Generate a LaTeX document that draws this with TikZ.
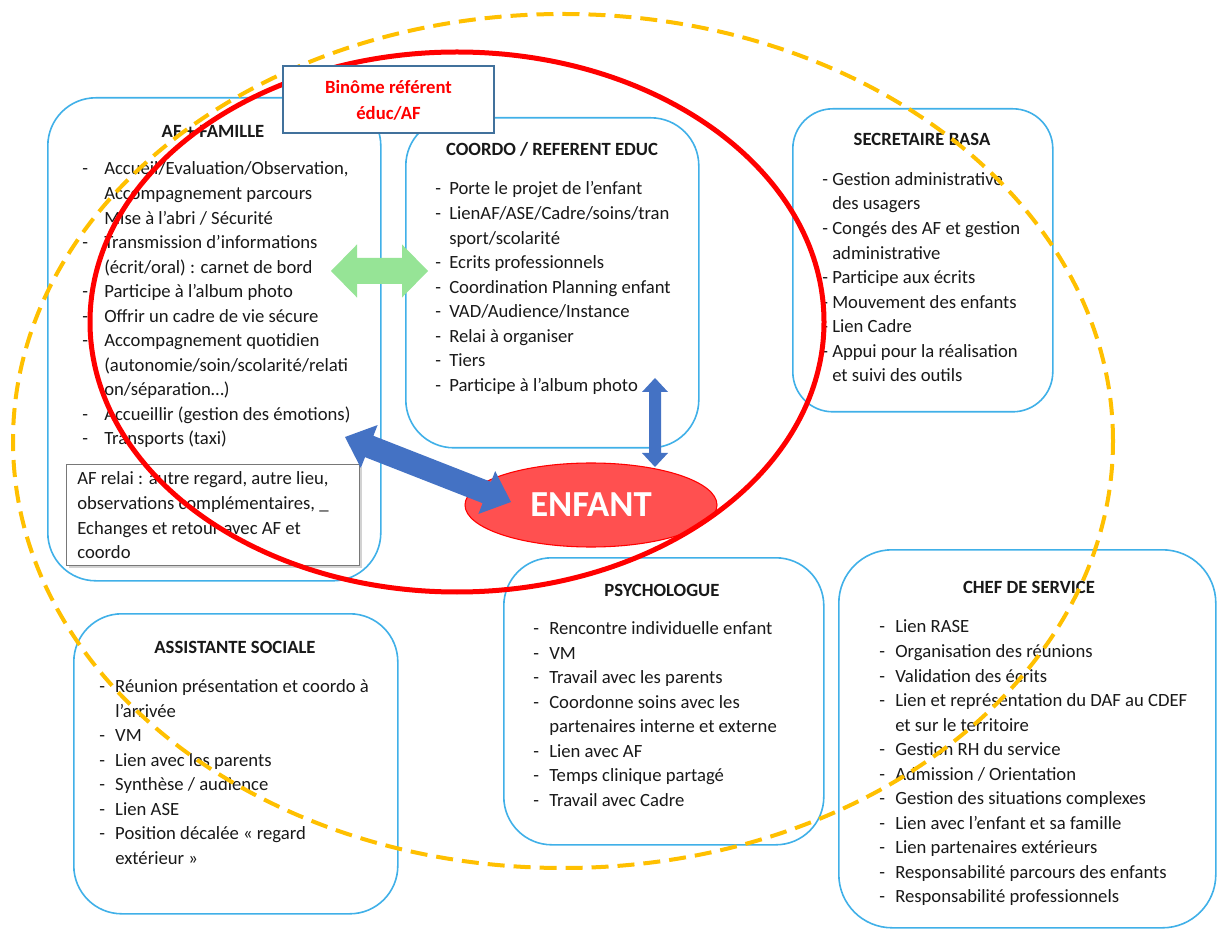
\documentclass[tikz,border=0pt]{standalone}
\usepackage{fontspec}
\setmainfont{Carlito}
\usetikzlibrary{calc,shapes.geometric,shadows}
\definecolor{boxblue}{RGB}{64,176,232}
\definecolor{binblue}{RGB}{65,113,156}
\definecolor{orangeY}{RGB}{255,192,0}
\definecolor{enfred}{RGB}{255,80,80}
\definecolor{arrblue}{RGB}{68,114,196}
\definecolor{arrgreen}{RGB}{150,228,150}
\definecolor{relaigray}{RGB}{120,120,120}
\definecolor{txt}{RGB}{25,25,25}
\newcommand\bodyfont{\fontsize{14}{18.4}\selectfont}
\newcommand\ditem[1]{\strut\makebox[#1][l]{-}}
\newcommand\dcont[1]{\strut\hspace*{#1}}
% #1 tip A, #2 tip B, #3 head length, #4 head half width, #5 shaft half width, #6 colour
\newcommand\blockarrow[6]{%
  \coordinate (ha) at ($(#1)!#3!(#2)$);
  \coordinate (hb) at ($(#2)!#3!(#1)$);
  \fill[#6] (#1) -- ($(ha)!#4!90:(#2)$) -- ($(ha)!#5!90:(#2)$) -- ($(hb)!#5!-90:(#1)$)
    -- ($(hb)!#4!-90:(#1)$) -- (#2) -- ($(hb)!#4!90:(#1)$) -- ($(hb)!#5!90:(#1)$)
    -- ($(ha)!#5!-90:(#2)$) -- ($(ha)!#4!-90:(#2)$) -- cycle;}
\tikzset{
  rbox/.style={draw=boxblue, line width=1.2pt, rounded corners=36pt, fill=white,
    anchor=north west, inner sep=0pt},
  titletext/.style={font=\bodyfont\bfseries, text=txt, anchor=base, inner sep=0pt},
  listtext/.style={font=\bodyfont, text=txt, align=left, anchor=north west, inner sep=0pt},
  relaibox/.style={draw=relaigray, line width=1.1pt, fill=white, anchor=north west,
    inner sep=0pt, drop shadow={shadow xshift=1.5pt, shadow yshift=-1.5pt, opacity=0.35}},
  binbox/.style={draw=binblue, line width=1.5pt, fill=white, anchor=north west, inner sep=0pt},
  bintext/.style={font=\fontsize{14}{19.5}\selectfont\bfseries, text=red, align=center, inner sep=0pt},
  enfantnode/.style={ellipse, draw=red, line width=0.8pt, fill=enfred, text=white,
    font=\fontsize{27.5}{30}\selectfont\bfseries, inner sep=0pt},
  redring/.style={draw=red, line width=3.75pt},
  orangering/.style={draw=orangeY, line width=3pt, dash pattern=on 12.75pt off 6.75pt},
}
\begin{document}
\begin{tikzpicture}[x=0.75pt,y=-0.75pt]
\path[use as bounding box, fill=white] (0,0) rectangle (1217,937);

% ---------- boxes ----------
\node[rbox, minimum width=249.75pt, minimum height=362.25pt] (af) at (47,97) {};
\node[rbox, minimum width=219.75pt, minimum height=247.5pt] (coordo) at (405,117) {};
\node[rbox, rounded corners=30pt, minimum width=195pt, minimum height=227.25pt] (secr) at (792,108) {};
\node[rbox, minimum width=243pt, minimum height=225pt] (as) at (73,613) {};
\node[rbox, minimum width=240pt, minimum height=215.25pt] (psy) at (503,557) {};
\node[rbox, rounded corners=40pt, minimum width=282.75pt, minimum height=283.5pt] (chef) at (838,549) {};

% ---------- AF + FAMILLE ----------
\node[titletext] (aftitle) at (213,138) {AF + FAMILLE};
\node[listtext] (aflist) at (82,157.5) {%
\ditem{16.5pt}Accueil/Evaluation/Observation,\\
\dcont{16.5pt}Accompagnement parcours\\
\dcont{16.5pt}Mise à l’abri / Sécurité\\
\ditem{16.5pt}Transmission d’informations\\
\dcont{16.5pt}(écrit/oral) : carnet de bord\\
\ditem{16.5pt}Participe à l’album photo\\
\ditem{16.5pt}Offrir un cadre de vie sécure\\
\ditem{16.5pt}Accompagnement quotidien\\
\dcont{16.5pt}(autonomie/soin/scolarité/relati\\
\dcont{16.5pt}on/séparation…)\\
\ditem{16.5pt}Accueillir (gestion des émotions)\\
\ditem{16.5pt}Transports (taxi)};

% ---------- COORDO ----------
\node[titletext] (cotitle) at (552,156) {COORDO / REFERENT EDUC};
\node[listtext] (colist) at (435,177.5) {%
\ditem{10.5pt}Porte le projet de l’enfant\\
\ditem{10.5pt}LienAF/ASE/Cadre/soins/tran\\
\dcont{10.5pt}sport/scolarité\\
\ditem{10.5pt}Ecrits professionnels\\
\ditem{10.5pt}Coordination Planning enfant\\
\ditem{10.5pt}VAD/Audience/Instance\\
\ditem{10.5pt}Relai à organiser\\
\ditem{10.5pt}Tiers\\
\ditem{10.5pt}Participe à l’album photo};

% ---------- SECRETAIRE ----------
\node[titletext] (setitle) at (922,146) {SECRETAIRE BASA};
\node[listtext] (selist) at (822,168) {%
\ditem{7.5pt}Gestion administrative\\
\dcont{7.5pt}des usagers\\
\ditem{7.5pt}Congés des AF et gestion\\
\dcont{7.5pt}administrative\\
\ditem{7.5pt}Participe aux écrits\\
\ditem{7.5pt}Mouvement des enfants\\
\ditem{7.5pt}Lien Cadre\\
\ditem{7.5pt}Appui pour la réalisation\\
\dcont{7.5pt}et suivi des outils};

% ---------- ASSISTANTE SOCIALE ----------
\node[titletext] (astitle) at (235,653) {ASSISTANTE SOCIALE};
\node[listtext] (aslist) at (99,675.3) {%
\ditem{12pt}Réunion présentation et coordo à\\
\dcont{12pt}l’arrivée\\
\ditem{12pt}VM\\
\ditem{12pt}Lien avec les parents\\
\ditem{12pt}Synthèse / audience\\
\ditem{12pt}Lien ASE\\
\ditem{12pt}Position décalée « regard\\
\dcont{12pt}extérieur »};

% ---------- PSYCHOLOGUE ----------
\node[titletext] (psytitle) at (662,596) {PSYCHOLOGUE};
\node[listtext] (psylist) at (533,617.3) {%
\ditem{12pt}Rencontre individuelle enfant\\
\ditem{12pt}VM\\
\ditem{12pt}Travail avec les parents\\
\ditem{12pt}Coordonne soins avec les\\
\dcont{12pt}partenaires interne et externe\\
\ditem{12pt}Lien avec AF\\
\ditem{12pt}Temps clinique partagé\\
\ditem{12pt}Travail avec Cadre};

% ---------- CHEF DE SERVICE ----------
\node[titletext] (cheftitle) at (1029,593) {CHEF DE SERVICE};
\node[listtext] (cheflist) at (879,615.5) {%
\ditem{12pt}Lien RASE\\
\ditem{12pt}Organisation des réunions\\
\ditem{12pt}Validation des écrits\\
\ditem{12pt}Lien et représentation du DAF au CDEF\\
\dcont{12pt}et sur le territoire\\
\ditem{12pt}Gestion RH du service\\
\ditem{12pt}Admission / Orientation\\
\ditem{12pt}Gestion des situations complexes\\
\ditem{12pt}Lien avec l’enfant et sa famille\\
\ditem{12pt}Lien partenaires extérieurs\\
\ditem{12pt}Responsabilité parcours des enfants\\
\ditem{12pt}Responsabilité professionnels};

% ---------- AF relai ----------
\node[relaibox, minimum width=219.75pt, minimum height=75.75pt] (relai) at (66,464) {};
\node[listtext] (relaitext) at (77,467.5) {%
\strut AF relai : autre regard, autre lieu,\\
\strut observations complémentaires, \_\\
\strut Echanges et retour avec AF et\\
\strut coordo};

% ---------- ENFANT ----------
\node[enfantnode, minimum width=189pt, minimum height=63pt] (enfant) at (591,505) {ENFANT};

% ---------- block arrows ----------
\coordinate (gL) at (331,271);
\coordinate (gR) at (428,271);
\blockarrow{gL}{gR}{19.5pt}{19.9pt}{9.75pt}{arrgreen}
\coordinate (dA) at (345,437);
\coordinate (dB) at (511,502);
\blockarrow{dA}{dB}{19.5pt}{17.25pt}{8.6pt}{arrblue}
\coordinate (vA) at (655,378);
\coordinate (vB) at (655,467);
\blockarrow{vA}{vB}{10.5pt}{9.75pt}{4.5pt}{arrblue}

% ---------- rings ----------
\coordinate (redc) at (457,322);
\draw[redring] (redc) ellipse [x radius=275.25pt, y radius=202.5pt];
\coordinate (orc) at (563,441);
\draw[orangering] (orc) ellipse [x radius=412.5pt, y radius=320.25pt];

% ---------- Binome ----------
\node[binbox, minimum width=158.25pt, minimum height=50.25pt] (binome) at (282,65) {};
\node[bintext] (bintxt) at ([yshift=-1pt]binome.center) {\strut Binôme référent\\\strut éduc/AF};
\end{tikzpicture}
\end{document}
